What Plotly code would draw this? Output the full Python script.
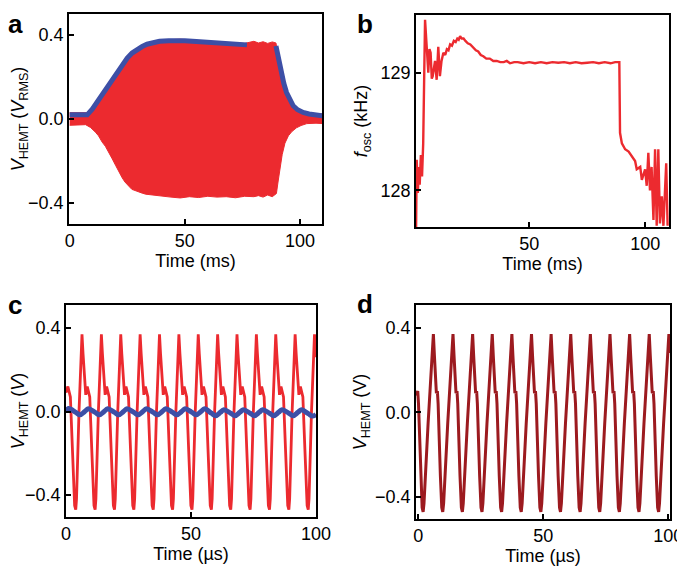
import plotly.graph_objects as go

# ---------------- panel a : envelope of V_HEMT (ms) ----------------
a_up_t = [0, 4, 7.5, 9.5, 12, 14, 16, 18.4, 20.6, 22.8, 25, 27, 29.3, 31.5, 34, 37, 40, 44, 48,
          52, 56, 60, 64, 68, 72, 76, 78, 80, 82, 84, 86, 88, 89.6, 90.3, 91, 92, 93, 94.2,
          95.5, 97.1, 99, 101.4, 104, 107, 110]
a_up_v = [0.03, 0.03, 0.03, 0.05, 0.085, 0.12, 0.155, 0.19, 0.226, 0.26, 0.29, 0.315, 0.335,
          0.348, 0.36, 0.37, 0.375, 0.378, 0.38, 0.377, 0.372, 0.37, 0.366, 0.364, 0.362, 0.36,
          0.365, 0.37, 0.362, 0.368, 0.36, 0.367, 0.362, 0.31, 0.27, 0.22, 0.17, 0.126, 0.092,
          0.063, 0.044, 0.031, 0.028, 0.025, 0.024]
a_lo_t = [110, 107, 103, 100.5, 98.5, 96.5, 95, 93.5, 92.3, 91.3, 90.5, 89.8, 88, 86, 84, 82,
          80, 76, 72, 68, 64, 60, 56, 52, 48, 44, 40, 36, 33, 31.5, 29, 27, 25.7, 24, 22.8,
          21.5, 19.9, 18.5, 17, 15.5, 14.1, 12.5, 11.2, 9, 6.9, 4, 0]
a_lo_v = [-0.022, -0.02, -0.022, -0.031, -0.042, -0.06, -0.08, -0.115, -0.17, -0.235, -0.30,
          -0.355, -0.37, -0.362, -0.372, -0.365, -0.37, -0.368, -0.375, -0.37, -0.372, -0.368,
          -0.374, -0.37, -0.376, -0.372, -0.368, -0.362, -0.358, -0.353, -0.345, -0.335, -0.32,
          -0.30, -0.28, -0.25, -0.22, -0.19, -0.157, -0.13, -0.11, -0.08, -0.063, -0.04,
          -0.027, -0.028, -0.03]
a_rms1_t = [0, 3, 6, 7.6, 9.8, 12, 14.1, 16.2, 18.4, 20.6, 22.8, 25, 27.1, 29.3, 31.5, 33.6,
            35.8, 39, 43, 47, 50, 55, 60, 64, 68, 72, 77]
a_rms1_v = [0.02, 0.02, 0.019, 0.02, 0.047, 0.082, 0.118, 0.153, 0.188, 0.224, 0.259, 0.29,
            0.314, 0.332, 0.345, 0.356, 0.364, 0.37, 0.373, 0.374, 0.373, 0.369, 0.365, 0.361,
            0.358, 0.356, 0.353]
a_rms2_t = [89.6, 90.3, 91.0, 92.0, 93.0, 94.2, 95.5, 97.1, 99, 101.4, 104, 106.5, 108.7, 110]
a_rms2_v = [0.348, 0.31, 0.27, 0.215, 0.17, 0.126, 0.092, 0.063, 0.044, 0.031, 0.024, 0.019,
            0.016, 0.015]

# ---------------- panel b : oscillation frequency ----------------
b_t = [1.2, 1.5, 2.0, 2.4, 2.8, 3.3, 3.8, 4.3, 5.1, 5.8, 6.5, 7.0, 7.5, 8.0, 8.4, 9.4, 10.1,
       10.8, 11.5, 12.2, 13.0, 13.8, 14.5, 15.2, 15.9, 16.7, 17.5, 18.3, 19.0, 19.6, 20.2,
       20.9, 21.7, 22.5, 23.5, 24.6, 25.9, 27.0, 28.0, 29.1, 30.2, 31.5, 33.0, 34.5, 36.0,
       37.5, 39.0, 40.3, 41.7, 43.5, 45, 47.5, 50, 52.5, 55, 57.5, 60, 62.5, 65, 67.5, 70,
       72.5, 75, 77.5, 80, 82.5, 85, 87, 88.8, 89.1, 89.9, 91.3, 92.8, 94.2, 95.6, 96.3,
       97.8, 98.5, 99.9, 100.6, 101.3, 102.0, 102.7, 103.5, 104.2, 104.9, 105.6, 106.3,
       107.1, 107.8, 109.0, 109.6]
b_f = [127.60, 128.26, 127.98, 128.20, 128.05, 128.30, 128.12, 128.40, 129.45, 129.25, 129.00,
       129.20, 129.17, 128.95, 128.97, 129.10, 128.94, 129.22, 128.97, 129.10, 129.17, 129.15,
       129.20, 129.19, 129.24, 129.23, 129.27, 129.26, 129.29, 129.28, 129.31, 129.29, 129.29,
       129.27, 129.25, 129.24, 129.21, 129.19, 129.18, 129.15, 129.14, 129.12, 129.12, 129.10,
       129.10, 129.09, 129.09, 129.10, 129.08, 129.09, 129.09, 129.08, 129.09, 129.08, 129.09,
       129.08, 129.09, 129.085, 129.09, 129.08, 129.09, 129.08, 129.085, 129.09, 129.08,
       129.09, 129.08, 129.09, 129.09, 128.49, 128.40, 128.35, 128.33, 128.29, 128.25, 128.18,
       128.20, 128.09, 128.18, 128.04, 128.32, 128.00, 128.20, 127.75, 128.35, 127.70, 128.35,
       127.72, 127.95, 127.70, 128.23, 127.70]

# ---------------- panel c : waveforms (us) ----------------
c_red_t = [0.0, 0.75, 1.75, 2.55, 3.45,
           3.9, 4.2, 5.2, 6.0, 6.4, 6.8, 7.4, 7.9, 8.5, 9.5, 10.3, 11.2,
           11.65, 11.95, 12.95, 13.75, 14.15, 14.55, 15.15, 15.65, 16.25, 17.25, 18.05, 18.95,
           19.4, 19.7, 20.7, 21.5, 21.9, 22.3, 22.9, 23.4, 24.0, 25.0, 25.8, 26.7,
           27.15, 27.45, 28.45, 29.25, 29.65, 30.05, 30.65, 31.15, 31.75, 32.75, 33.55, 34.45,
           34.9, 35.2, 36.2, 37.0, 37.4, 37.8, 38.4, 38.9, 39.5, 40.5, 41.3, 42.2,
           42.65, 42.95, 43.95, 44.75, 45.15, 45.55, 46.15, 46.65, 47.25, 48.25, 49.05, 49.95,
           50.4, 50.7, 51.7, 52.5, 52.9, 53.3, 53.9, 54.4, 55.0, 56.0, 56.8, 57.7,
           58.15, 58.45, 59.45, 60.25, 60.65, 61.05, 61.65, 62.15, 62.75, 63.75, 64.55, 65.45,
           65.9, 66.2, 67.2, 68.0, 68.4, 68.8, 69.4, 69.9, 70.5, 71.5, 72.3, 73.2,
           73.65, 73.95, 74.95, 75.75, 76.15, 76.55, 77.15, 77.65, 78.25, 79.25, 80.05, 80.95,
           81.4, 81.7, 82.7, 83.5, 83.9, 84.3, 84.9, 85.4, 86.0, 87.0, 87.8, 88.7,
           89.15, 89.45, 90.45, 91.25, 91.65, 92.05, 92.65, 93.15, 93.75, 94.75, 95.55, 96.45,
           96.9, 97.2, 98.2, 99.0, 99.4, 99.8, 100.0]
c_red_v = [0.09, 0.12, 0.07, -0.18, -0.45,
           -0.47, -0.42, 0.0, 0.30, 0.37, 0.28, 0.13, 0.08, 0.12, 0.07, -0.18, -0.45,
           -0.47, -0.42, 0.0, 0.30, 0.37, 0.28, 0.13, 0.08, 0.12, 0.07, -0.18, -0.45,
           -0.47, -0.42, 0.0, 0.30, 0.37, 0.28, 0.13, 0.08, 0.12, 0.07, -0.18, -0.45,
           -0.47, -0.42, 0.0, 0.30, 0.37, 0.28, 0.13, 0.08, 0.12, 0.07, -0.18, -0.45,
           -0.47, -0.42, 0.0, 0.30, 0.37, 0.28, 0.13, 0.08, 0.12, 0.07, -0.18, -0.45,
           -0.47, -0.42, 0.0, 0.30, 0.37, 0.28, 0.13, 0.08, 0.12, 0.07, -0.18, -0.45,
           -0.47, -0.42, 0.0, 0.30, 0.37, 0.28, 0.13, 0.08, 0.12, 0.07, -0.18, -0.45,
           -0.47, -0.42, 0.0, 0.30, 0.37, 0.28, 0.13, 0.08, 0.12, 0.07, -0.18, -0.45,
           -0.47, -0.42, 0.0, 0.30, 0.37, 0.28, 0.13, 0.08, 0.12, 0.07, -0.18, -0.45,
           -0.47, -0.42, 0.0, 0.30, 0.37, 0.28, 0.13, 0.08, 0.12, 0.07, -0.18, -0.45,
           -0.47, -0.42, 0.0, 0.30, 0.37, 0.28, 0.13, 0.08, 0.12, 0.07, -0.18, -0.45,
           -0.47, -0.42, 0.0, 0.30, 0.37, 0.28, 0.13, 0.08, 0.12, 0.07, -0.18, -0.45,
           -0.47, -0.42, 0.0, 0.30, 0.37, 0.31, 0.26]
c_blue_t = [0.0, 1.1, 3.9, 5.6, 7.5, 8.9, 11.65, 13.35, 15.25, 16.65, 19.4, 21.1, 23.0, 24.4,
            27.15, 28.85, 30.75, 32.15, 34.9, 36.6, 38.5, 39.9, 42.65, 44.35, 46.25, 47.65,
            50.4, 52.1, 54.0, 55.4, 58.15, 59.85, 61.75, 63.15, 65.9, 67.6, 69.5, 70.9,
            73.65, 75.35, 77.25, 78.65, 81.4, 83.1, 85.0, 86.4, 89.15, 90.85, 92.75, 94.15,
            96.9, 98.6, 100.0]
c_blue_v = [0.004, 0.014,
            -0.004, -0.016, 0.0, 0.013, -0.004, -0.016, 0.0, 0.013, -0.004, -0.016, 0.0, 0.013,
            -0.004, -0.016, 0.0, 0.013, -0.004, -0.016, 0.0, 0.013, -0.004, -0.016, 0.0, 0.013,
            -0.004, -0.016, 0.0, 0.013,
            -0.008, -0.020, -0.004, 0.009, -0.008, -0.020, -0.004, 0.009, -0.008, -0.020,
            -0.004, 0.009, -0.008, -0.020, -0.004, 0.009, -0.008, -0.020, -0.004, 0.009,
            -0.010, -0.022, -0.014]

# ---------------- panel d : waveform (us) ----------------
d_t = [-0.9, -0.2, 0.1, 1.0, 1.55,
       1.95, 2.3, 3.95, 5.45, 6.05, 6.45, 6.95, 7.25, 7.65, 7.95, 8.85, 9.4,
       9.8, 10.15, 11.8, 13.3, 13.9, 14.3, 14.8, 15.1, 15.5, 15.8, 16.7, 17.25,
       17.65, 18.0, 19.65, 21.15, 21.75, 22.15, 22.65, 22.95, 23.35, 23.65, 24.55, 25.1,
       25.5, 25.85, 27.5, 29.0, 29.6, 30.0, 30.5, 30.8, 31.2, 31.5, 32.4, 32.95,
       33.35, 33.7, 35.35, 36.85, 37.45, 37.85, 38.35, 38.65, 39.05, 39.35, 40.25, 40.8,
       41.2, 41.55, 43.2, 44.7, 45.3, 45.7, 46.2, 46.5, 46.9, 47.2, 48.1, 48.65,
       49.05, 49.4, 51.05, 52.55, 53.15, 53.55, 54.05, 54.35, 54.75, 55.05, 55.95, 56.5,
       56.9, 57.25, 58.9, 60.4, 61.0, 61.4, 61.9, 62.2, 62.6, 62.9, 63.8, 64.35,
       64.75, 65.1, 66.75, 68.25, 68.85, 69.25, 69.75, 70.05, 70.45, 70.75, 71.65, 72.2,
       72.6, 72.95, 74.6, 76.1, 76.7, 77.1, 77.6, 77.9, 78.3, 78.6, 79.5, 80.05,
       80.45, 80.8, 82.45, 83.95, 84.55, 84.95, 85.45, 85.75, 86.15, 86.45, 87.35, 87.9,
       88.3, 88.65, 90.3, 91.8, 92.4, 92.8, 93.3, 93.6, 94.0, 94.3, 95.2, 95.75,
       96.15, 96.5, 98.15, 99.65, 100.25, 100.65]
d_v = [0.08, 0.10, 0.04, -0.30, -0.45,
       -0.47, -0.43, -0.05, 0.28, 0.37, 0.27, 0.12, 0.09, 0.10, 0.04, -0.30, -0.45,
       -0.47, -0.43, -0.05, 0.28, 0.37, 0.27, 0.12, 0.09, 0.10, 0.04, -0.30, -0.45,
       -0.47, -0.43, -0.05, 0.28, 0.37, 0.27, 0.12, 0.09, 0.10, 0.04, -0.30, -0.45,
       -0.47, -0.43, -0.05, 0.28, 0.37, 0.27, 0.12, 0.09, 0.10, 0.04, -0.30, -0.45,
       -0.47, -0.43, -0.05, 0.28, 0.37, 0.27, 0.12, 0.09, 0.10, 0.04, -0.30, -0.45,
       -0.47, -0.43, -0.05, 0.28, 0.37, 0.27, 0.12, 0.09, 0.10, 0.04, -0.30, -0.45,
       -0.47, -0.43, -0.05, 0.28, 0.37, 0.27, 0.12, 0.09, 0.10, 0.04, -0.30, -0.45,
       -0.47, -0.43, -0.05, 0.28, 0.37, 0.27, 0.12, 0.09, 0.10, 0.04, -0.30, -0.45,
       -0.47, -0.43, -0.05, 0.28, 0.37, 0.27, 0.12, 0.09, 0.10, 0.04, -0.30, -0.45,
       -0.47, -0.43, -0.05, 0.28, 0.37, 0.27, 0.12, 0.09, 0.10, 0.04, -0.30, -0.45,
       -0.47, -0.43, -0.05, 0.28, 0.37, 0.27, 0.12, 0.09, 0.10, 0.04, -0.30, -0.45,
       -0.47, -0.43, -0.05, 0.28, 0.37, 0.27, 0.12, 0.09, 0.10, 0.04, -0.30, -0.45,
       -0.47, -0.43, -0.05, 0.28, 0.37, 0.28]

RED = "#ec2a2f"
BLUE = "#3d4fa6"
DARKRED = "#9c1a1f"
FONT = "Liberation Sans, Arial, sans-serif"
# the page body keeps its default 8 px margin, so the figure is 8 px smaller each way
OFF = 8
W, H = 685 - OFF, 566 - OFF


def px_x(a, b):
    return [(a - OFF) / W, (b - OFF) / W]


def px_y(top, bottom):
    return [1 - (bottom - OFF) / H, 1 - (top - OFF) / H]


fig = go.Figure()

# a
fig.add_trace(go.Scatter(x=a_up_t + a_lo_t, y=a_up_v + a_lo_v, fill="toself", fillcolor=RED,
                         mode="lines", line=dict(color=RED, width=1), xaxis="x", yaxis="y"))
fig.add_trace(go.Scatter(x=a_rms1_t, y=a_rms1_v, mode="lines", line=dict(color=BLUE, width=5),
                         xaxis="x", yaxis="y"))
fig.add_trace(go.Scatter(x=a_rms2_t, y=a_rms2_v, mode="lines", line=dict(color=BLUE, width=5),
                         xaxis="x", yaxis="y"))
# b
fig.add_trace(go.Scatter(x=b_t, y=b_f, mode="lines", line=dict(color=RED, width=2.4),
                         xaxis="x2", yaxis="y2"))
# c
fig.add_trace(go.Scatter(x=c_red_t, y=c_red_v, mode="lines", line=dict(color=RED, width=2.8),
                         xaxis="x3", yaxis="y3"))
fig.add_trace(go.Scatter(x=c_blue_t, y=c_blue_v, mode="lines",
                         line=dict(color=BLUE, width=5, shape="spline"), xaxis="x3", yaxis="y3"))
# d
fig.add_trace(go.Scatter(x=d_t, y=d_v, mode="lines", line=dict(color=DARKRED, width=3),
                         xaxis="x4", yaxis="y4"))

base = dict(showline=True, linecolor="black", linewidth=1.5, mirror=True, ticks="inside",
            ticklen=5, tickwidth=1.5, tickcolor="black", showgrid=False, zeroline=False,
            automargin=False, tickfont=dict(size=18, color="black"),
            title_font=dict(size=18, color="black"))

fig.update_layout(
    width=W, height=H, margin=dict(l=0, r=0, t=0, b=0),
    paper_bgcolor="white", plot_bgcolor="white", showlegend=False,
    font=dict(family=FONT, size=18, color="black"),
    xaxis=dict(base, domain=px_x(69, 322), range=[-0.3, 109.6], tickvals=[0, 50, 100],
               title=dict(text="Time (ms)", standoff=4), anchor="y"),
    yaxis=dict(base, domain=px_y(14, 224), range=[-0.5, 0.5], tickvals=[-0.4, 0, 0.4],
               tickformat=".1f", anchor="x",
               title=dict(text="<i>V</i><sub>HEMT</sub> (<i>V</i><sub>RMS</sub>)", standoff=4)),
    xaxis2=dict(base, domain=px_x(416, 669), range=[1.2, 110.2], tickvals=[50, 100],
                title=dict(text="Time (ms)", standoff=4), anchor="y2"),
    yaxis2=dict(base, domain=px_y(15, 227), range=[127.69, 129.49], tickvals=[128, 129],
                anchor="x2", title=dict(text="<i>f</i><sub>osc</sub> (kHz)", standoff=8)),
    xaxis3=dict(base, domain=px_x(66, 316), range=[0, 100], tickvals=[0, 50, 100],
                title=dict(text="Time (µs)", standoff=4), anchor="y3"),
    yaxis3=dict(base, domain=px_y(305, 517), range=[-0.505, 0.51], tickvals=[-0.4, 0, 0.4],
                tickformat=".1f", anchor="x3",
                title=dict(text="<i>V</i><sub>HEMT</sub> (<i>V</i>)", standoff=4)),
    xaxis4=dict(base, domain=px_x(416, 670), range=[-0.9, 100.7], tickvals=[0, 50, 100],
                title=dict(text="Time (µs)", standoff=2), anchor="y4"),
    yaxis4=dict(base, domain=px_y(305, 519), range=[-0.504, 0.507], tickvals=[-0.4, 0, 0.4],
                tickformat=".1f", anchor="x4",
                title=dict(text="<i>V</i><sub>HEMT</sub> (V)", standoff=4)),
)

# panel letters; a and b sit as high as the page allows
for letter, x, y, anchor in [("a", 15, OFF, "top"), ("b", 365, OFF, "top"),
                             ("c", 15, 305, "middle"), ("d", 365, 304, "middle")]:
    fig.add_annotation(text="<b>%s</b>" % letter, x=(x - OFF) / W, y=1 - (y - OFF) / H,
                       xref="paper", yref="paper", showarrow=False, xanchor="center",
                       yanchor=anchor, borderpad=0,
                       font=dict(size=26, family=FONT, color="black"))

fig.write_html("out.html")
